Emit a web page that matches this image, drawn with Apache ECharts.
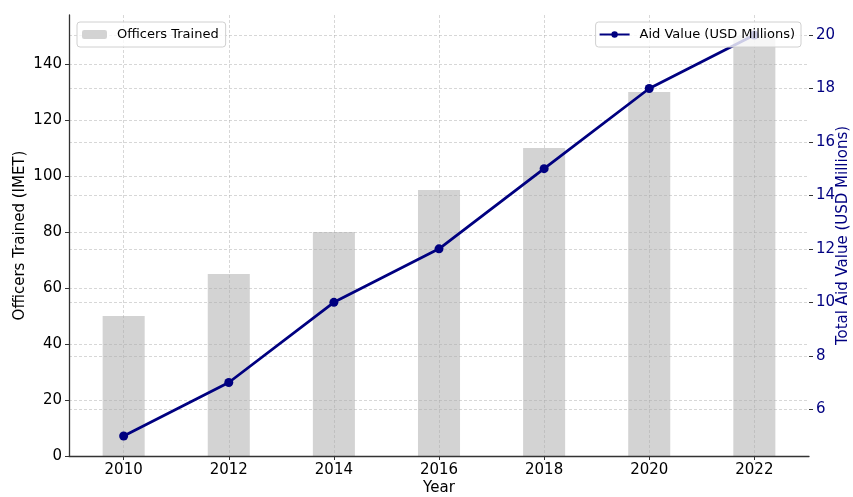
<!DOCTYPE html>
<html>
<head>
<meta charset="utf-8">
<script src="https://cdn.jsdelivr.net/npm/echarts@6/dist/echarts.min.js"></script>
<style>html,body{margin:0;padding:0;background:#fff;}#c{width:853px;height:497px;}</style>
</head>
<body>
<div id="c"></div>
<script>
const years = [2010, 2012, 2014, 2016, 2018, 2020, 2022];
const officersTrained = [50, 65, 80, 95, 110, 130, 150];
const aidValue = [5, 7, 10, 12, 15, 18, 20];
const leftTicks = [0, 20, 40, 60, 80, 100, 120, 140];
const rightTicks = [6, 8, 10, 12, 14, 16, 18, 20];

const FONT = 'DejaVu Sans';
const NAVY = '#000080';
const GRID = 'rgba(170,170,170,0.6)';
const gridLine = { show: true, lineStyle: { color: GRID, width: 0.8, type: [3, 2] } };

const chart = echarts.init(document.getElementById('c'), null, { renderer: 'canvas' });
chart.setOption({
  animation: false,
  backgroundColor: '#fff',
  textStyle: { fontFamily: FONT },
  grid: { left: 69, right: 44, top: 15, bottom: 41, containLabel: false, outerBoundsMode: 'none' },
  legend: [
    {
      data: ['Officers Trained'], left: 77, top: 22, orient: 'horizontal',
      padding: [6, 7, 6, 5], itemWidth: 25, itemHeight: 9,
      backgroundColor: 'rgba(255,255,255,0.8)', borderColor: '#d0d0d0', borderWidth: 1, borderRadius: 3,
      textStyle: { fontFamily: FONT, fontSize: 13, color: '#000', padding: [0, 0, 0, 5] }, z: 10
    },
    {
      data: ['Aid Value (USD Millions)'], right: 52, top: 22, orient: 'horizontal',
      padding: [6, 6, 6, 3], itemWidth: 30, itemHeight: 8,
      backgroundColor: 'rgba(255,255,255,0.8)', borderColor: '#d0d0d0', borderWidth: 1, borderRadius: 3,
      textStyle: { fontFamily: FONT, fontSize: 13, color: '#000', padding: [0, 0, 0, 5] }, z: 10
    }
  ],
  xAxis: {
    type: 'value', min: 2008.96, max: 2023.04, z: 2,
    name: 'Year', nameLocation: 'middle', nameGap: 25, nameMoveOverlap: false,
    nameTextStyle: { fontFamily: FONT, fontSize: 15, color: '#000' },
    axisLine: { show: true, lineStyle: { color: '#333', width: 1.3 } },
    axisTick: { show: true, customValues: years, length: 4, lineStyle: { color: '#333' } },
    axisLabel: { customValues: years, fontFamily: FONT, fontSize: 15, color: '#000', margin: 7, formatter: v => String(v) },
    splitLine: gridLine
  },
  yAxis: [
    {
      type: 'value', min: 0, max: 157.5, position: 'left', z: 2,
      name: 'Officers Trained (IMET)', nameLocation: 'middle', nameGap: 41, nameRotate: 90, nameMoveOverlap: false,
      nameTextStyle: { fontFamily: FONT, fontSize: 15, color: '#000' },
      axisLine: { show: true, lineStyle: { color: '#333', width: 1.3 } },
      axisTick: { show: true, customValues: leftTicks, length: 4, lineStyle: { color: '#333' } },
      axisLabel: { customValues: leftTicks, fontFamily: FONT, fontSize: 15, color: '#000', margin: 7 },
      splitLine: gridLine
    },
    {
      type: 'value', min: 4.25, max: 20.75, position: 'right', z: 2,
      name: 'Total Aid Value (USD Millions)', nameLocation: 'middle', nameGap: 27, nameRotate: 90, nameMoveOverlap: false,
      nameTextStyle: { fontFamily: FONT, fontSize: 15, color: NAVY },
      axisLine: { show: false },
      axisTick: { show: true, customValues: rightTicks, length: 4, lineStyle: { color: '#333' } },
      axisLabel: { customValues: rightTicks, fontFamily: FONT, fontSize: 15, color: NAVY, margin: 7 },
      splitLine: gridLine
    }
  ],
  series: [
    {
      name: 'Officers Trained', type: 'bar', yAxisIndex: 0, z: 1,
      data: years.map((y, i) => [y, officersTrained[i]]),
      barWidth: '40%',
      itemStyle: { color: '#d3d3d3' }
    },
    {
      name: 'Aid Value (USD Millions)', type: 'line', yAxisIndex: 1, z: 3,
      data: years.map((y, i) => [y, aidValue[i]]),
      symbol: 'circle', symbolSize: 9,
      lineStyle: { color: NAVY, width: 2.8 },
      itemStyle: { color: NAVY }
    }
  ]
});
</script>
</body>
</html>
